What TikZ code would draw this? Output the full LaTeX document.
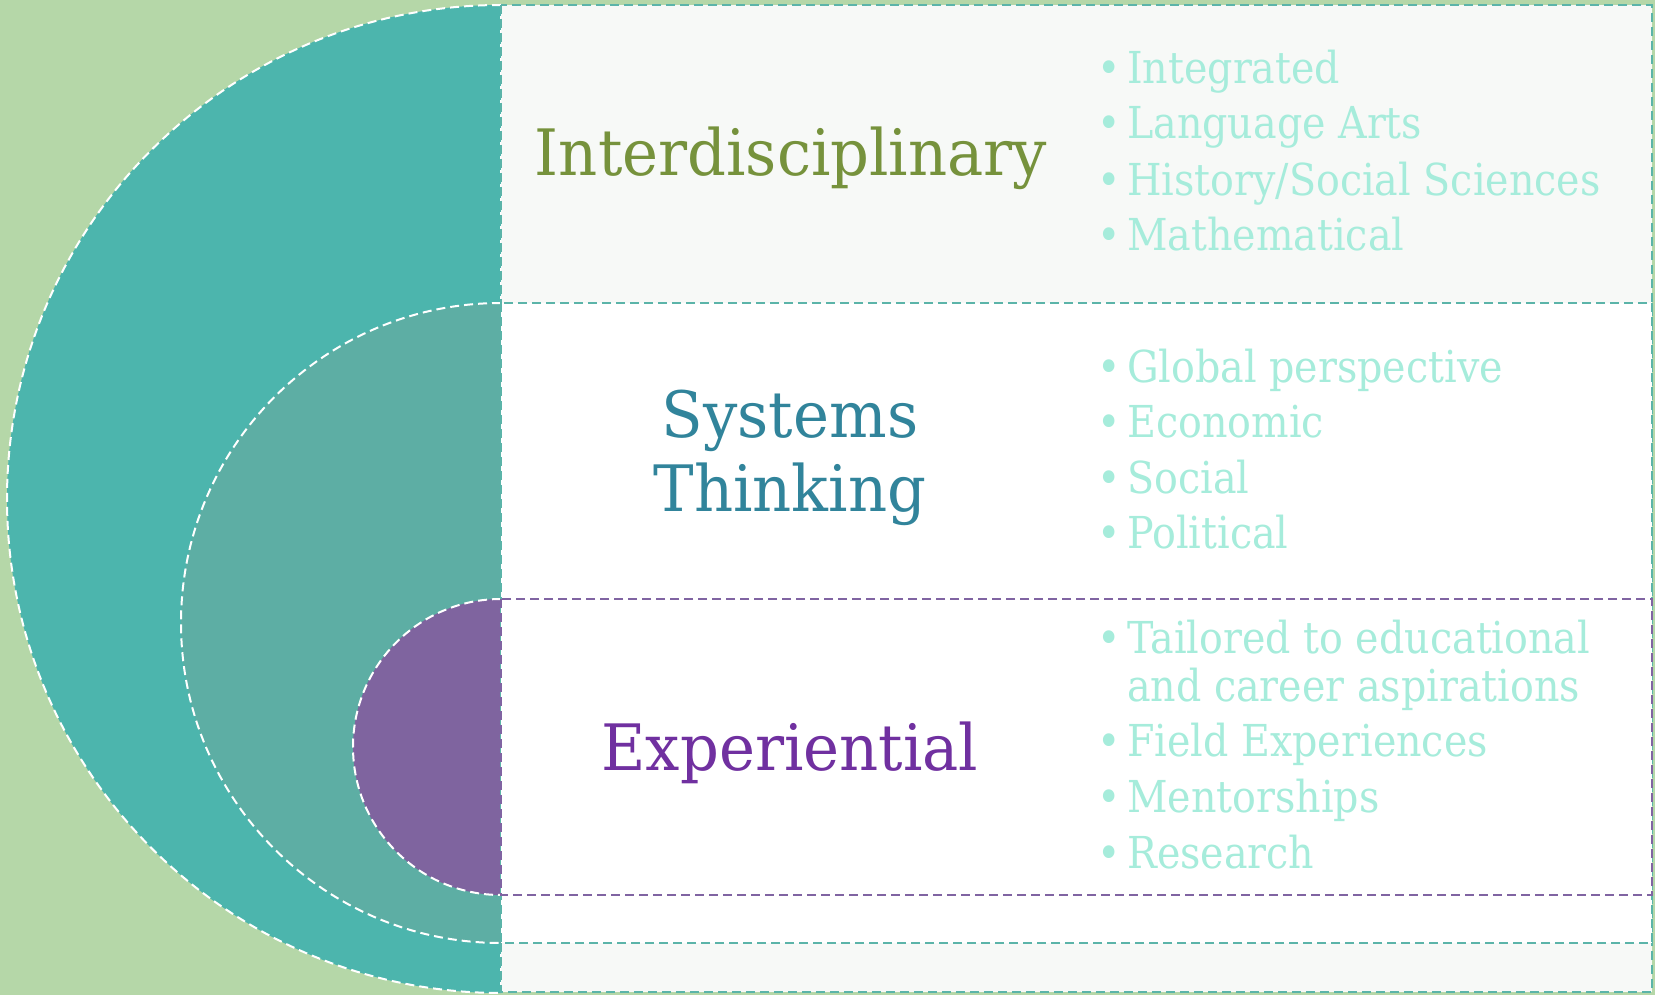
\documentclass[tikz,border=0pt]{standalone}
\usepackage{fontspec}
\setmainfont{DejaVu Serif}
\newfontfamily\titlefont[FakeStretch=0.95]{DejaVu Serif}
\newfontfamily\itemfont[FakeStretch=0.9]{DejaVu Serif}
\usepackage{tikz}
\usepackage{xcolor}

\definecolor{bgGreen}{HTML}{B5D7A8}
\definecolor{outerTeal}{HTML}{4CB5AD}
\definecolor{midTeal}{HTML}{5DAEA4}
\definecolor{innerPurple}{HTML}{7F649F}
\definecolor{panelGrey}{HTML}{F7F9F7}
\definecolor{lineTeal}{HTML}{5BB4A9}
\definecolor{linePurple}{HTML}{8064A2}
\definecolor{titleGreen}{HTML}{76923C}
\definecolor{titleBlue}{HTML}{31849B}
\definecolor{titlePurple}{HTML}{7030A0}
\definecolor{itemAqua}{HTML}{A6ECDB}

\newcommand{\bul}{\llap{\textbullet\hspace{6pt}}}

\tikzset{
  ringline/.style={draw=white, line width=2pt, dash pattern=on 9pt off 5pt},
  panelline/.style={line width=2pt, dash pattern=on 9pt off 5pt},
  titletext/.style={font=\titlefont\fontsize{64}{70}\selectfont, inner sep=0pt, anchor=base},
  itemtext/.style={font=\itemfont\fontsize{44}{48}\selectfont, text=itemAqua, inner sep=0pt, anchor=base west},
}

\begin{document}
\begin{tikzpicture}[x=1pt, y=-1pt]
    % background
    \fill[bgGreen] (0,0) rectangle (1655,995);
    \useasboundingbox (0,0) rectangle (1655,995);

    % nested half discs
    \fill[outerTeal] (501,5) arc[start angle=90, end angle=270, radius=494pt] -- cycle;
    \draw[ringline] (501,5) arc[start angle=90, end angle=270, radius=494pt] -- cycle;
    \fill[midTeal] (501,303) arc[start angle=90, end angle=270, radius=320pt] -- cycle;
    \draw[ringline] (501,303) arc[start angle=90, end angle=270, radius=320pt] -- cycle;
    \fill[innerPurple] (501,599) arc[start angle=90, end angle=270, radius=148pt] -- cycle;
    \draw[ringline] (501,599) arc[start angle=90, end angle=270, radius=148pt] -- cycle;

    % panels
    \filldraw[panelline, fill=panelGrey, draw=lineTeal] (501,5) rectangle (1652,992);
    \filldraw[panelline, fill=white, draw=lineTeal] (501,303) rectangle (1652,943);
    \filldraw[panelline, fill=white, draw=linePurple] (501,599) rectangle (1652,895);

    % titles
    \node[titletext, text=titleGreen] (inter) at (791,176) {Interdisciplinary};
    \node[titletext, text=titleBlue] (sys) at (790,437) {Systems};
    \node[titletext, text=titleBlue] (think) at (790,511) {Thinking};
    \node[titletext, text=titlePurple] (exper) at (790,770) {Experiential};

    % bullet lists
    \node[itemtext] (integ) at (1127,84) {\bul Integrated};
    \node[itemtext] (lang) at (1127,139) {\bul Language Arts};
    \node[itemtext] (hist) at (1127,196) {\bul History/Social Sciences};
    \node[itemtext] (math) at (1127,251) {\bul Mathematical};

    \node[itemtext] (glob) at (1127,382) {\bul Global perspective};
    \node[itemtext] (econ) at (1127,437) {\bul Economic};
    \node[itemtext] (soc) at (1127,493) {\bul Social};
    \node[itemtext] (pol) at (1127,548) {\bul Political};

    \node[itemtext] (tail) at (1127,653) {\bul Tailored to educational};
    \node[itemtext] (tailb) at (1127,701) {and career aspirations};
    \node[itemtext] (field) at (1127,756) {\bul Field Experiences};
    \node[itemtext] (ment) at (1127,812) {\bul Mentorships};
    \node[itemtext] (res) at (1127,868) {\bul Research};
\end{tikzpicture}
\end{document}
